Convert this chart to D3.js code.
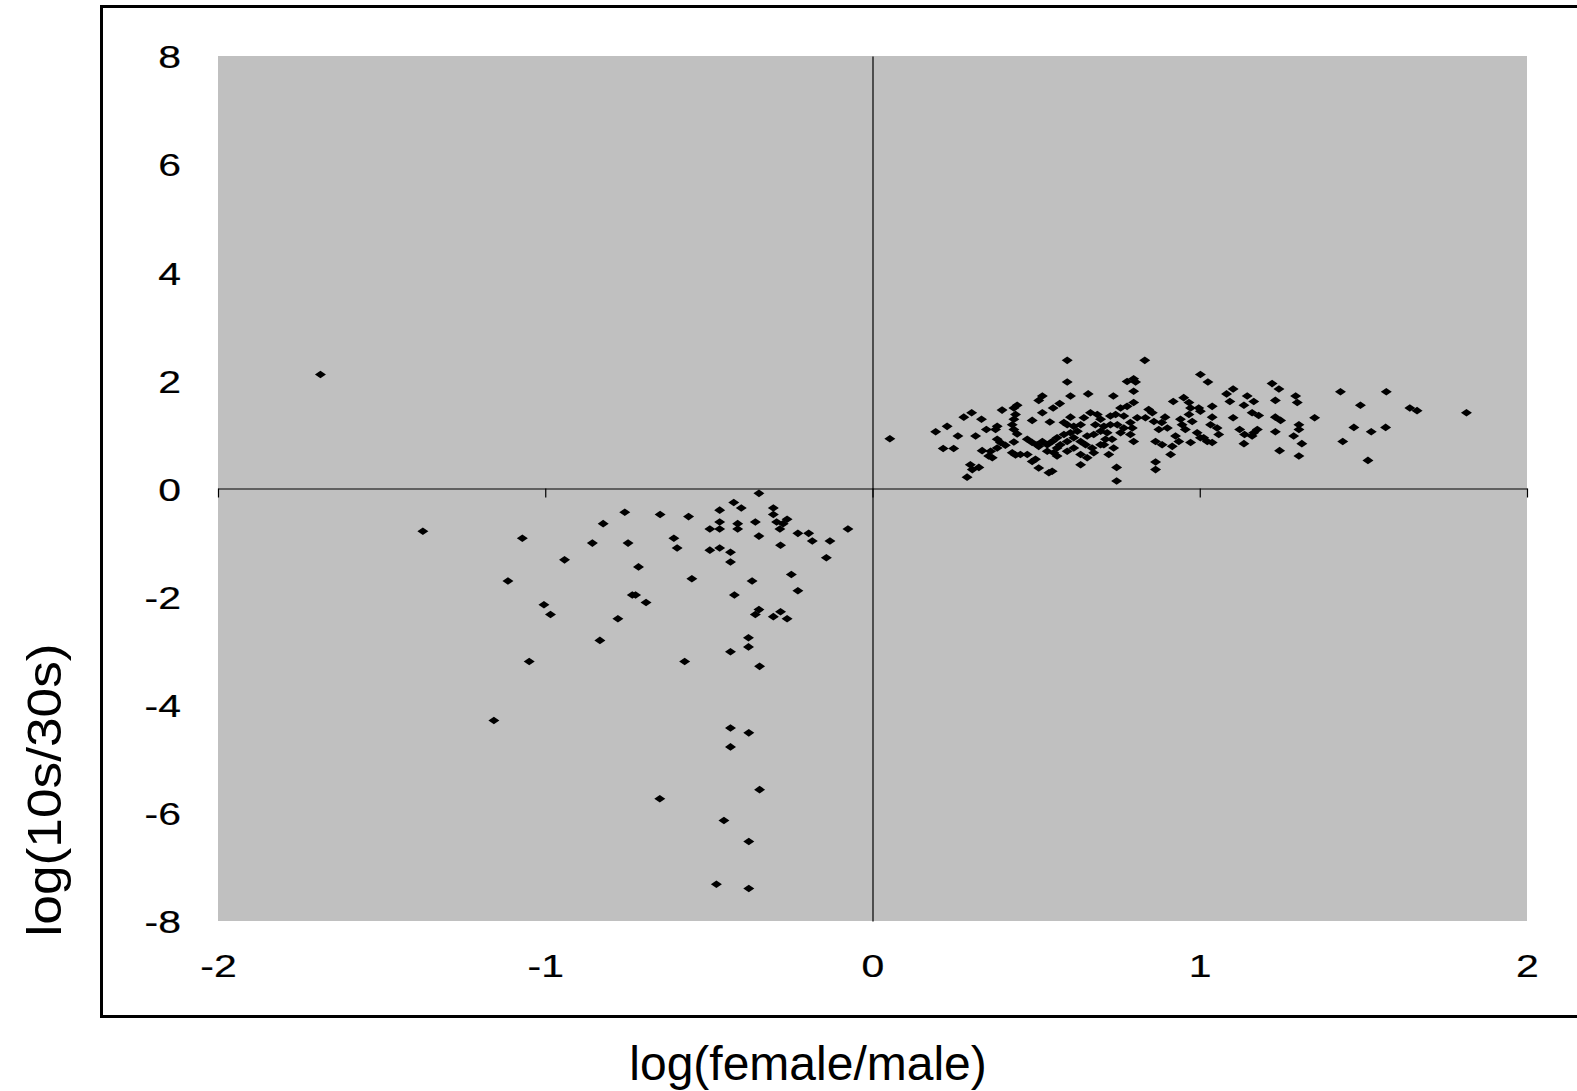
<!DOCTYPE html>
<html>
<head>
<meta charset="utf-8">
<script src="https://cdn.jsdelivr.net/npm/d3@7"></script>
<style>
  body { margin: 0; background: #fff; }
  svg { display: block; font-family: "Liberation Sans", Arial, sans-serif; }
</style>
</head>
<body>
<svg width="1577" height="1091"></svg>
<script>
// tick values
var xTicks = [-2, -1, 0, 1, 2];
var yTicks = [-8, -6, -4, -2, 0, 2, 4, 6, 8];

// log(female/male) and log(10s/30s) of each point
var xVals = [
  // upper right group
  0.595, 0.595, 0.659, 0.605, 0.519, 0.508, 0.572, 0.552, 0.442, 0.432,
  0.396, 0.519, 0.303, 0.279, 0.437, 0.432, 0.427, 0.432, 0.333, 0.488,
  0.542, 0.605, 0.585, 0.228, 0.193, 0.381, 0.376, 0.348, 0.261, 0.315,
  0.442, 0.381, 0.391, 0.406, 0.381, 0.432, 0.473, 0.488, 0.508, 0.216,
  0.248, 0.335, 0.355, 0.366, 0.361, 0.427, 0.437, 0.452, 0.473, 0.488,
  0.498, 0.534, 0.554, 0.564, 0.508, 0.549, 0.539, 0.636, 0.299, 0.325,
  0.305, 0.289, 0.053, 0.595, 0.615, 0.636, 0.626, 0.605, 0.585, 0.564,
  0.549, 0.574, 0.595, 0.615, 0.636, 0.656, 0.676, 0.697, 0.651, 0.671,
  0.697, 0.615, 0.595, 0.636, 0.656, 0.676, 0.564, 0.534, 0.519, 0.503,
  0.646, 0.666, 0.687, 0.697, 0.681, 0.832, 1.002, 1.025, 0.778, 0.798,
  0.804, 0.798, 0.736, 1.221, 1.242, 1.102, 1.082, 1.092, 1.145, 1.165,
  1.135, 1.231, 1.293, 1.298, 0.919, 0.951, 0.967, 0.972, 0.997, 1.002,
  1.038, 0.798, 0.778, 0.758, 0.844, 0.855, 0.834, 0.860, 0.727, 0.743,
  0.768, 0.809, 0.894, 0.884, 0.875, 0.901, 0.941, 0.967, 0.977, 0.946,
  0.956, 1.038, 1.033, 1.053, 1.058, 1.102, 1.160, 1.180, 1.231, 1.247,
  1.303, 0.788, 0.794, 0.768, 0.748, 0.727, 0.707, 0.758, 0.788, 0.717,
  0.712, 0.732, 0.707, 0.798, 0.865, 0.885, 0.916, 0.936, 0.926, 0.972,
  1.002, 0.992, 1.012, 1.023, 1.038, 1.122, 1.137, 1.165, 1.176, 1.160,
  1.135, 1.231, 1.287, 1.303, 0.737, 0.722, 0.911, 1.244, 1.303, 0.865,
  0.865, 0.746, 0.746, 1.430, 1.570, 1.491, 1.642, 1.664, 1.815, 1.351,
  1.312, 1.471, 1.524, 1.568, 1.437, 1.514,
  // lower left group
  -1.687, -1.374, -0.347, -0.424, -0.401, -0.757, -0.649, -0.562, -0.467, -0.303,
  -0.303, -0.293, -0.261, -0.273, -0.283, -0.358, -0.467, -0.467, -0.497, -0.412,
  -0.412, -0.823, -0.075, -0.347, -0.228, -0.195, -0.184, -0.130, -0.281, -1.070,
  -0.856, -0.747, -0.607, -0.597, -0.497, -0.467, -0.434, -0.434, -0.141, -0.941,
  -0.715, -1.114, -0.552, -0.368, -0.248, -0.228, -0.422, -0.734, -0.724, -0.692,
  -1.004, -0.984, -0.778, -0.347, -0.358, -0.303, -0.281, -0.261, -0.833, -0.379,
  -0.379, -0.434, -1.049, -0.574, -0.345, -1.157, -0.434, -0.378, -0.434, -0.345,
  -0.650, -0.454, -0.378, -0.477, -0.378
];
var yVals = [
  2.37, 1.97, 1.75, 1.71, 1.71, 1.63, 1.57, 1.49, 1.54, 1.49,
  1.45, 1.40, 1.40, 1.32, 1.37, 1.28, 1.18, 1.09, 1.28, 1.26,
  1.23, 1.32, 1.22, 1.15, 1.05, 1.15, 1.09, 1.09, 0.97, 0.97,
  1.01, 0.91, 0.85, 0.80, 0.75, 0.86, 0.91, 0.85, 0.78, 0.74,
  0.74, 0.70, 0.60, 0.57, 0.69, 0.66, 0.62, 0.63, 0.63, 0.50,
  0.54, 0.69, 0.66, 0.60, 0.38, 0.32, 0.29, 0.44, 0.44, 0.39,
  0.35, 0.21, 0.92, 1.18, 1.15, 1.18, 1.06, 1.03, 1.00, 0.94,
  0.87, 0.81, 0.87, 0.94, 0.87, 0.97, 1.00, 1.06, 0.81, 0.75,
  0.81, 0.75, 0.69, 0.63, 0.57, 0.66, 0.75, 0.81, 0.87, 0.81,
  1.31, 1.40, 1.37, 1.28, 1.18, 2.37, 2.11, 1.97, 1.98, 2.03,
  1.97, 1.80, 1.71, 1.94, 1.84, 1.84, 1.75, 1.61, 1.71, 1.61,
  1.54, 1.63, 1.71, 1.59, 1.61, 1.68, 1.59, 1.49, 1.49, 1.43,
  1.52, 1.59, 1.52, 1.49, 1.46, 1.40, 1.31, 1.24, 1.34, 1.37,
  1.34, 1.31, 1.32, 1.22, 1.09, 1.12, 1.28, 1.37, 1.24, 1.18,
  1.09, 1.32, 1.18, 1.12, 1.00, 1.31, 1.40, 1.35, 1.32, 1.26,
  1.18, 1.22, 1.12, 1.12, 1.18, 1.18, 1.15, 1.03, 1.00, 1.03,
  0.91, 0.91, 0.81, 0.87, 0.87, 0.81, 0.78, 0.87, 0.97, 0.85,
  0.94, 1.03, 0.94, 0.87, 0.85, 1.09, 1.00, 1.03, 1.09, 0.97,
  0.83, 1.05, 0.97, 1.09, 0.75, 0.63, 0.63, 0.70, 0.60, 0.49,
  0.35, 0.39, 0.14, 1.79, 1.79, 1.54, 1.49, 1.44, 1.40, 1.31,
  0.83, 1.13, 1.05, 1.13, 0.87, 0.52,
  2.11, -0.79, -0.09, -0.26, -0.36, -0.44, -0.48, -0.52, -0.40, -0.36,
  -0.48, -0.62, -0.57, -0.65, -0.75, -0.62, -0.62, -0.75, -0.75, -0.65,
  -0.75, -0.65, -0.75, -0.88, -0.83, -0.83, -0.97, -0.97, -1.05, -0.92,
  -1.01, -1.01, -0.92, -1.10, -1.14, -1.10, -1.18, -1.36, -1.28, -1.32,
  -1.45, -1.71, -1.67, -1.71, -1.59, -1.89, -1.97, -1.97, -1.97, -2.11,
  -2.15, -2.33, -2.41, -2.24, -2.33, -2.37, -2.28, -2.41, -2.81, -2.76,
  -2.93, -3.02, -3.20, -3.20, -3.29, -4.29, -4.43, -4.52, -4.78, -5.57,
  -5.74, -6.14, -6.53, -7.32, -7.40
];

var points = xVals.map((v, i) => ({ x: v, y: yVals[i] }));

var svg = d3.select("svg");

var x = d3.scaleLinear().domain([-2, 2]).range([218, 1527]);
var y = d3.scaleLinear().domain([-8, 8]).range([921, 56]);

// outer chart border (runs off the right edge)
svg.append("rect")
    .attr("x", 101.5)
    .attr("y", 6.5)
    .attr("width", 1600)
    .attr("height", 1010)
    .attr("fill", "none")
    .attr("stroke", "#000")
    .attr("stroke-width", 3);

// grey plot area
svg.append("rect")
    .attr("x", x(-2))
    .attr("y", y(8))
    .attr("width", x(2) - x(-2))
    .attr("height", y(-8) - y(8))
    .attr("fill", "#c0c0c0");

// axis lines crossing at the origin
svg.append("g")
    .attr("transform", `translate(0,${y(0)})`)
    .call(d3.axisBottom(x).tickValues(xTicks).tickSize(9).tickSizeOuter(0).tickFormat(""));

svg.append("g")
    .attr("transform", `translate(${x(0)},0)`)
    .call(d3.axisLeft(y).tickValues([]).tickSizeOuter(0));

svg.selectAll(".domain, .tick line").attr("stroke", "#000").attr("stroke-width", 1.2);

// tick labels sit at the low side of the plot, plain hyphen minus
var fmt = d => String(d);

var yLabels = svg.append("g")
    .attr("transform", "translate(181,0)")
    .call(d3.axisLeft(y).tickValues(yTicks).tickSize(0).tickPadding(0).tickFormat(fmt));

var xLabels = svg.append("g")
    .attr("transform", "translate(0,977)")
    .call(d3.axisBottom(x).tickValues(xTicks).tickSize(0).tickPadding(0).tickFormat(fmt));

[yLabels, xLabels].forEach(function(g) {
    g.select(".domain").remove();
    g.selectAll("text")
        .attr("x", 0)
        .attr("y", 0)
        .attr("font-family", "Liberation Sans, Arial, sans-serif")
        .attr("font-size", 31)
        .attr("fill", "#000")
        .attr("stroke", "#000")
        .attr("stroke-width", 0.2)
        .attr("transform", "scale(1.32,1)");
});
yLabels.selectAll("text").attr("dy", "0.38em");
xLabels.selectAll("text").attr("dy", 0);

// data points as small diamonds
svg.selectAll(".pt")
    .data(points)
    .enter().append("path")
    .attr("class", "pt")
    .attr("transform", d => `translate(${x(d.x)},${y(d.y)})`)
    .attr("d", "M0,-3.8L5.5,0L0,3.8L-5.5,0Z")
    .attr("fill", "#000");

// axis titles
svg.append("text")
    .attr("x", 808)
    .attr("y", 1080)
    .attr("text-anchor", "middle")
    .attr("font-size", 48)
    .text("log(female/male)");

svg.append("text")
    .attr("transform", "translate(61,790) rotate(-90) scale(1.11,1)")
    .attr("text-anchor", "middle")
    .attr("font-size", 48)
    .text("log(10s/30s)");
</script>
</body>
</html>
